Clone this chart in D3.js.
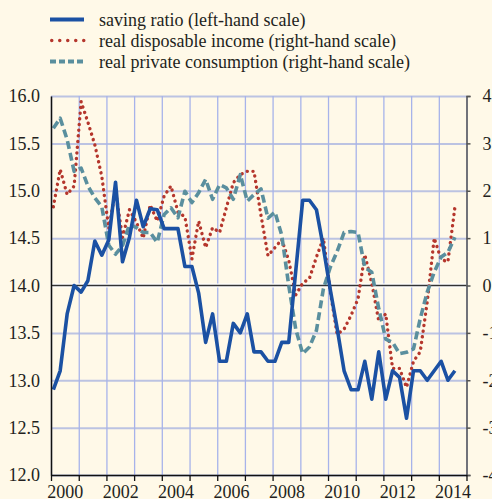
<!DOCTYPE html>
<html>
<head>
<meta charset="utf-8">
<script src="https://cdn.jsdelivr.net/npm/d3@7"></script>
<style>
  body { margin: 0; background: #fff9e8; }
  svg { display: block; }
  text { font-family: "Liberation Serif", "Times New Roman", serif; fill: #231f20; }
</style>
</head>
<body>
<div id="chart"></div>
<script>
// Saving ratio vs real income and consumption, quarterly 2000Q1 - 2014Q3

var years = [2000, 2001, 2002, 2003, 2004, 2005, 2006, 2007, 2008, 2009, 2010, 2011, 2012, 2013, 2014];
var yearLabels = [2000, 2002, 2004, 2006, 2008, 2010, 2012, 2014];
var leftTicks = [12.0, 12.5, 13.0, 13.5, 14.0, 14.5, 15.0, 15.5, 16.0];
var rightTicks = [-4, -3, -2, -1, 0, 1, 2, 3, 4];

// saving ratio, % (left-hand scale)
var savingRatio = [12.9, 13.1, 13.7, 14.0, 13.93, 14.05, 14.47, 14.32,
  14.48, 15.09, 14.25, 14.51, 14.9, 14.62, 14.81, 14.8,
  14.6, 14.6, 14.6, 14.2, 14.2, 13.92, 13.4, 13.7,
  13.2, 13.2, 13.6, 13.5, 13.7, 13.3, 13.3, 13.2,
  13.2, 13.4, 13.4, 14.15, 14.9, 14.9, 14.8, 14.4,
  13.95, 13.55, 13.1, 12.9, 12.9, 13.2, 12.8, 13.3,
  12.8, 13.1, 13.03, 12.6, 13.1, 13.1, 13.0, 13.1,
  13.2, 13.0, 13.1];

// real disposable income, % yoy (right-hand scale)
var disposableIncome = [1.66, 2.45, 1.92, 2.1, 3.88, 3.45, 2.97, 2.3,
  1.2, 2.0, 1.01, 1.6, 1.33, 1.0, 1.7, 1.36,
  1.89, 2.1, 1.55, 1.45, 0.56, 1.36, 0.8, 1.22,
  1.12, 1.64, 2.17, 2.34, 2.41, 2.41, 1.48, 0.63,
  0.8, 0.97, 0.53, -0.2, 0.05, 0.15, 0.6, 1.0,
  -0.14, -1.03, -0.92, -0.63, -0.28, 0.65, 0.05, -0.75,
  -0.6, -1.75, -1.75, -2.15, -1.6, -1.4, -0.35, 1.0,
  0.55, 0.5, 1.65];

// real private consumption, % yoy (right-hand scale)
var privateConsumption = [3.32, 3.53, 3.08, 2.41, 2.48, 2.1, 1.85, 1.66,
  0.85, 0.66, 0.84, 1.29, 1.22, 1.12, 1.12, 0.91,
  1.5, 1.64, 1.43, 1.99, 1.75, 1.96, 2.24, 1.82,
  2.13, 2.06, 1.82, 2.34, 1.78, 1.92, 2.04, 1.42,
  1.55, 1.06, 0.0, -0.92, -1.44, -1.3, -0.95, -0.07,
  0.39, 0.72, 1.12, 1.14, 1.12, 0.38, 0.28, -0.49,
  -1.13, -1.2, -1.44, -1.41, -1.34, -0.7, -0.14, 0.28,
  0.6, 0.7, 1.02];

var seriesNames = [
  "saving ratio (left-hand scale)",
  "real disposable income (right-hand scale)",
  "real private consumption (right-hand scale)"
];

var svgWidth = 492;
var svgHeight = 499;
var plotLeft = 51, plotRight = 466.5, plotTop = 96, plotBottom = 475;

var blue = "#1b51a3";
var red = "#b5362c";
var teal = "#5a8f9e";
var serif = "Liberation Serif, Times New Roman, serif";

// quarters, plotted at the middle month of each quarter
var periods = savingRatio.map(function(d, i) {
  var y = 2000 + Math.floor(i / 4);
  var q = i % 4;
  return new Date(y, q * 3 + 1, 1);
});

var svg = d3.select("#chart")
  .append("svg")
  .attr("width", svgWidth)
  .attr("height", svgHeight);

var x = d3.scaleTime()
  .domain([new Date(2000, 0, 1), new Date(2015, 0, 1)])
  .range([plotLeft, plotRight]);

var yLeft = d3.scaleLinear().domain([12, 16]).range([plotBottom, plotTop]);
var yRight = d3.scaleLinear().domain([-4, 4]).range([plotBottom, plotTop]);

var yearDates = years.concat([2015]).map(function(y) { return new Date(y, 0, 1); });

// horizontal grid
svg.append("g")
  .attr("transform", "translate(" + plotLeft + ",0)")
  .call(d3.axisLeft(yLeft).tickValues(leftTicks).tickSize(-(plotRight - plotLeft)).tickFormat(""))
  .call(function(g) {
    g.select(".domain").remove();
    g.selectAll("line").attr("stroke", "#bcc3e2").attr("stroke-width", 2);
  });

// vertical grid
svg.append("g")
  .attr("transform", "translate(0," + plotBottom + ")")
  .call(d3.axisBottom(x).tickValues(yearDates).tickSize(-(plotBottom - plotTop)).tickFormat(""))
  .call(function(g) {
    g.select(".domain").remove();
    g.selectAll("line").attr("stroke", "#a7b3ea").attr("stroke-width", 1.3);
  });

// zero line
svg.append("line")
  .attr("x1", plotLeft).attr("x2", plotRight)
  .attr("y1", yRight(0)).attr("y2", yRight(0))
  .attr("stroke", "#ffffff").attr("stroke-width", 4);
svg.append("line")
  .attr("x1", plotLeft).attr("x2", plotRight)
  .attr("y1", yRight(0)).attr("y2", yRight(0))
  .attr("stroke", "#333333").attr("stroke-width", 1.5);

// lines
function drawLine(values, scale, color, width, dash, cap) {
  var line = d3.line()
    .x(function(d, i) { return x(periods[i]); })
    .y(function(d) { return scale(d); });
  svg.append("path")
    .datum(values)
    .attr("fill", "none")
    .attr("stroke", color)
    .attr("stroke-width", width)
    .attr("stroke-dasharray", dash)
    .attr("stroke-linecap", cap)
    .attr("stroke-linejoin", "round")
    .attr("d", line);
}

drawLine(disposableIncome, yRight, red, 3.4, "0.1,5.6", "round");
drawLine(privateConsumption, yRight, teal, 3.6, "8,4", "butt");
drawLine(savingRatio, yLeft, blue, 3.6, null, "butt");

// left axis
svg.append("g")
  .attr("transform", "translate(" + plotLeft + ",0)")
  .call(d3.axisLeft(yLeft).tickValues(leftTicks).tickSize(0).tickPadding(11).tickFormat(d3.format(".1f")))
  .call(function(g) {
    g.select(".domain").attr("stroke", "#111").attr("stroke-width", 1.5);
    g.selectAll("text").attr("font-size", 18).attr("fill", "#231f20").attr("font-family", serif);
  });

// right axis
svg.append("g")
  .attr("transform", "translate(" + plotRight + ",0)")
  .call(d3.axisRight(yRight).tickValues(rightTicks).tickSize(4).tickPadding(12).tickFormat(function(d) { return String(d); }))
  .call(function(g) {
    g.select(".domain").attr("stroke", "#555").attr("stroke-width", 1.5);
    g.selectAll("line").attr("stroke", "#555").attr("stroke-width", 1.5);
    g.selectAll("text").attr("font-size", 18).attr("fill", "#231f20").attr("font-family", serif);
  });

// bottom axis ticks
svg.append("g")
  .attr("transform", "translate(0," + plotBottom + ")")
  .call(d3.axisBottom(x).tickValues(yearDates).tickSize(6).tickSizeOuter(0).tickFormat(""))
  .call(function(g) {
    g.select(".domain").attr("stroke", "#111").attr("stroke-width", 1.5);
    g.selectAll("line").attr("stroke", "#111").attr("stroke-width", 1.3);
  });

// year labels centred in each year
svg.append("g")
  .attr("transform", "translate(0," + plotBottom + ")")
  .call(d3.axisBottom(x)
    .tickValues(yearLabels.map(function(y) { return new Date(y, 6, 1); }))
    .tickSize(0).tickPadding(10)
    .tickFormat(d3.timeFormat("%Y")))
  .call(function(g) {
    g.select(".domain").remove();
    g.selectAll("text").attr("font-size", 18).attr("fill", "#231f20").attr("font-family", serif);
  });

// legend
var legend = svg.append("g");
var legendStyles = [
  { color: blue, width: 4, dash: null, cap: "butt" },
  { color: red, width: 3.4, dash: "0.1,7.9", cap: "round" },
  { color: teal, width: 4, dash: "6,3", cap: "butt" }
];
seriesNames.forEach(function(name, i) {
  var yy = 26 + i * 21;
  var s = legendStyles[i];
  legend.append("line")
    .attr("x1", i === 1 ? 51.7 : 50).attr("x2", 84)
    .attr("y1", yy - 6.5).attr("y2", yy - 6.5)
    .attr("stroke", s.color)
    .attr("stroke-width", s.width)
    .attr("stroke-dasharray", s.dash)
    .attr("stroke-linecap", s.cap);
  legend.append("text")
    .attr("x", 99)
    .attr("y", yy)
    .attr("font-size", 18)
    .text(name);
});
</script>
</body>
</html>
